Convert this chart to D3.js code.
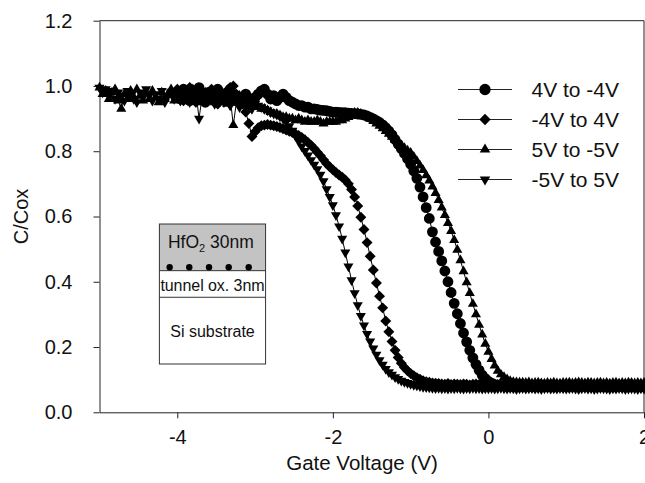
<!DOCTYPE html>
<html>
<head>
<meta charset="utf-8">
<script src="https://cdn.jsdelivr.net/npm/d3@7"></script>
<style>
  body { margin: 0; background: #fff; }
  text { font-family: "Liberation Sans", Arial, sans-serif; fill: #111; }
</style>
</head>
<body>
<div id="d3-container"></div>
<script>
/**
 * CONSTANTS AND GLOBALS
 * */
const width = 645,
  height = 483,
  margin = { top: 20.7, bottom: 70.7, left: 99.5, right: 1 };

// voltage step of the sweeps (V)
const sweepStep = 0.04;

const seriesNames = ["4V to -4V", "-4V to 4V", "5V to -5V", "-5V to 5V"];
const seriesStart = [-4, -4, -5, -5];

// C/Cox, one value per sweep step, clipped at 2 V
const circVals = [
  0.98, 0.96, 0.99, 0.975, 0.955, 0.97, 0.985, 0.995, 0.965, 0.95, 0.98, 0.97, 0.955, 0.99, 0.975, 0.96, 0.98, 0.99, 0.955, 0.97, 0.96, 0.95, 0.975, 0.96, 0.945,
  0.965, 0.975, 0.985, 0.99, 0.975, 0.96, 0.97, 0.955, 0.965, 0.975, 0.965, 0.955, 0.95, 0.945, 0.94, 0.94, 0.935, 0.935, 0.93, 0.93, 0.928, 0.926, 0.925, 0.924, 0.922,
  0.92, 0.92, 0.919, 0.918, 0.918, 0.917, 0.916, 0.915, 0.914, 0.913, 0.911, 0.908, 0.904, 0.899, 0.894, 0.888, 0.881, 0.872, 0.862, 0.85, 0.836, 0.822, 0.808, 0.793, 0.777,
  0.76, 0.74, 0.717, 0.69, 0.66, 0.627, 0.594, 0.553, 0.522, 0.493, 0.464, 0.433, 0.4, 0.367, 0.334, 0.302, 0.272, 0.243, 0.216, 0.19, 0.167, 0.147, 0.129, 0.114, 0.103,
  0.095, 0.089, 0.085, 0.083, 0.082, 0.081, 0.08, 0.079, 0.081, 0.08, 0.078, 0.08, 0.081, 0.079, 0.08, 0.078, 0.079, 0.081, 0.08, 0.079, 0.08, 0.078, 0.08, 0.081, 0.079,
  0.08, 0.079, 0.081, 0.08, 0.078, 0.079, 0.08, 0.081, 0.079, 0.08, 0.078, 0.08, 0.079, 0.081, 0.08, 0.079, 0.078, 0.08, 0.079, 0.081, 0.08, 0.079, 0.08, 0.078, 0.079, 0.08
];
const diamVals = [
  0.99, 0.97, 0.955, 0.985, 0.995, 0.965, 0.95, 0.98, 0.97, 0.955, 0.975, 0.99, 0.96, 0.945, 0.975, 0.965, 0.98, 0.995, 1.0, 0.975, 0.955, 0.945, 0.92, 0.885, 0.845,
  0.86, 0.872, 0.878, 0.88, 0.882, 0.88, 0.878, 0.876, 0.873, 0.869, 0.865, 0.861, 0.857, 0.853, 0.848, 0.842, 0.835, 0.827, 0.818, 0.808, 0.797, 0.786, 0.774, 0.762, 0.752,
  0.743, 0.735, 0.727, 0.72, 0.712, 0.70, 0.683, 0.66, 0.632, 0.598, 0.56, 0.52, 0.478, 0.436, 0.396, 0.356, 0.32, 0.28, 0.247, 0.217, 0.19, 0.168, 0.15, 0.137, 0.127,
  0.119, 0.112, 0.106, 0.101, 0.097, 0.094, 0.092, 0.09, 0.089, 0.088, 0.087, 0.086, 0.088, 0.085, 0.087, 0.086, 0.085, 0.087, 0.086, 0.084, 0.086, 0.087, 0.085, 0.086, 0.085,
  0.086, 0.085, 0.087, 0.085, 0.084, 0.086, 0.087, 0.085, 0.086, 0.084, 0.085, 0.087, 0.086, 0.085, 0.084, 0.086, 0.085, 0.087, 0.085, 0.084, 0.086, 0.085, 0.084, 0.086, 0.085,
  0.085, 0.086, 0.084, 0.085, 0.087, 0.085, 0.084, 0.086, 0.085, 0.083, 0.085, 0.086, 0.084, 0.085, 0.086, 0.084, 0.085, 0.083, 0.085, 0.086, 0.084, 0.085, 0.084, 0.086, 0.085, 0.084
];
const triVals = [
  0.995, 0.975, 0.985, 0.96, 0.98, 0.99, 0.955, 0.93, 0.975, 0.96, 0.985, 0.965, 0.99, 0.97, 0.955, 0.98, 0.96, 0.985, 0.965, 0.95, 0.98, 0.96, 0.975, 0.99, 0.955,
  0.975, 0.96, 0.985, 0.955, 0.97, 0.99, 0.96, 0.975, 0.95, 0.98, 0.965, 0.985, 0.95, 0.97, 0.96, 0.975, 0.945, 0.965, 0.88, 0.95, 0.97, 0.94, 0.96, 0.935, 0.955,
  0.94, 0.935, 0.93, 0.93, 0.925, 0.92, 0.915, 0.915, 0.91, 0.905, 0.905, 0.9, 0.9, 0.895, 0.9, 0.895, 0.89, 0.895, 0.89, 0.89, 0.895, 0.89, 0.885, 0.89, 0.89,
  0.89, 0.89, 0.895, 0.895, 0.9, 0.905, 0.915, 0.918, 0.918, 0.915, 0.91, 0.905, 0.899, 0.892, 0.885, 0.878, 0.87, 0.862, 0.853, 0.844, 0.835, 0.826, 0.818, 0.81, 0.802,
  0.795, 0.783, 0.77, 0.756, 0.742, 0.726, 0.71, 0.692, 0.672, 0.65, 0.627, 0.604, 0.58, 0.555, 0.528, 0.498, 0.466, 0.432, 0.398, 0.365, 0.332, 0.3, 0.268, 0.238, 0.21,
  0.185, 0.163, 0.143, 0.127, 0.116, 0.108, 0.101, 0.096, 0.093, 0.092, 0.091, 0.091, 0.09, 0.092, 0.089, 0.09, 0.091, 0.089, 0.088, 0.09, 0.089, 0.091, 0.089, 0.088, 0.09,
  0.09, 0.091, 0.089, 0.09, 0.092, 0.09, 0.089, 0.091, 0.09, 0.089, 0.09, 0.091, 0.089, 0.09, 0.088, 0.09, 0.091, 0.089, 0.09, 0.089, 0.091, 0.09, 0.089, 0.09, 0.089, 0.09
];
const invTriVals = [
  0.995, 0.98, 0.99, 0.97, 0.985, 0.96, 0.98, 0.97, 0.955, 0.985, 0.975, 0.96, 0.95, 0.98, 0.965, 0.99, 0.97, 0.955, 0.975, 0.96, 0.985, 0.95, 0.97, 0.98, 0.96,
  0.975, 0.955, 0.985, 0.965, 0.95, 0.97, 0.98, 0.9, 0.97, 0.955, 0.985, 0.96, 0.945, 0.97, 0.975, 0.95, 0.96, 0.94, 0.965, 0.955, 0.935, 0.96, 0.945, 0.95, 0.93,
  0.945, 0.94, 0.935, 0.93, 0.925, 0.92, 0.915, 0.912, 0.907, 0.9, 0.89, 0.877, 0.863, 0.847, 0.831, 0.815, 0.801, 0.787, 0.773, 0.759, 0.745, 0.728, 0.708, 0.684, 0.66,
  0.635, 0.604, 0.57, 0.532, 0.49, 0.447, 0.405, 0.365, 0.328, 0.295, 0.266, 0.24, 0.217, 0.196, 0.177, 0.16, 0.146, 0.133, 0.123, 0.115, 0.108, 0.102, 0.097, 0.093, 0.09,
  0.087, 0.084, 0.082, 0.08, 0.078, 0.077, 0.076, 0.075, 0.074, 0.075, 0.073, 0.074, 0.072, 0.074, 0.073, 0.075, 0.073, 0.072, 0.074, 0.073, 0.075, 0.073, 0.074, 0.072, 0.073,
  0.073, 0.074, 0.072, 0.073, 0.075, 0.073, 0.072, 0.074, 0.073, 0.071, 0.073, 0.074, 0.072, 0.073, 0.074, 0.072, 0.073, 0.071, 0.073, 0.074, 0.072, 0.073, 0.072, 0.074, 0.073,
  0.072, 0.073, 0.074, 0.072, 0.071, 0.073, 0.074, 0.072, 0.073, 0.071, 0.072, 0.074, 0.073, 0.072, 0.071, 0.073, 0.072, 0.074, 0.073, 0.071, 0.072, 0.073, 0.072, 0.071, 0.073, 0.072
];

const xTicks = [-4, -2, 0, 2];
const yTicks = [0, 0.2, 0.4, 0.6, 0.8, 1.0, 1.2];

// inset: device stack, in data units
const insetV = [-4.23, -2.865];
const insetLayers = [0.577, 0.434, 0.3525, 0.148]; // top of HfO2, top of tunnel ox, top of Si, bottom
const trapV = [-4.098, -3.846, -3.592, -3.339, -3.082];
const trapC = 0.4445;

let svg, x, y;

let state = { series: [] };

/**
 * INITIALIZING FUNCTION
 * */
function init() {
  x = d3.scaleLinear().domain([-5, 2]).range([margin.left, width - margin.right]);
  y = d3.scaleLinear().domain([0, 1.2]).range([height - margin.bottom, margin.top]);

  const vals = [circVals, diamVals, triVals, invTriVals];
  const shapes = [
    { type: d3.symbolCircle, size: 92, rot: 0, legendSize: 100 },
    { type: d3.symbolSquare, size: 60, rot: 45, legendSize: 64 },
    { type: d3.symbolTriangle, size: 44, rot: 0, legendSize: 48 },
    { type: d3.symbolTriangle, size: 44, rot: 180, legendSize: 48 }
  ];
  state.series = seriesNames.map((name, i) => ({
    name,
    shape: shapes[i],
    points: vals[i].map((c, j) => ({ v: seriesStart[i] + j * sweepStep, c }))
  }));

  svg = d3.select("#d3-container")
    .append("svg")
    .attr("width", width)
    .attr("height", height);

  // axes
  const yAxis = svg.append("g")
    .attr("transform", `translate(${x(-5)},0)`)
    .call(d3.axisLeft(y).tickValues(yTicks).tickFormat(d3.format(".1f"))
      .tickSize(6).tickSizeOuter(0).tickPadding(21));
  const xAxis = svg.append("g")
    .attr("transform", `translate(0,${y(0)})`)
    .call(d3.axisBottom(x).tickValues(xTicks).tickFormat(d => String(d))
      .tickSize(6).tickSizeOuter(0).tickPadding(12));
  [xAxis, yAxis].forEach(g => {
    g.selectAll("path, line").attr("stroke", "#222");
    g.selectAll("text").attr("font-size", 20).attr("fill", "#111")
      .attr("font-family", '"Liberation Sans", Arial, sans-serif');
  });

  // frame top and right
  svg.append("line")
    .attr("x1", x(-5)).attr("x2", x(2)).attr("y1", y(1.2)).attr("y2", y(1.2))
    .attr("stroke", "#222");
  svg.append("line")
    .attr("x1", x(2)).attr("x2", x(2)).attr("y1", y(0)).attr("y2", y(1.2))
    .attr("stroke", "#222");

  svg.append("text")
    .attr("transform", "rotate(-90)")
    .attr("x", -(y(0) + y(1.2)) / 2)
    .attr("y", 28)
    .attr("text-anchor", "middle")
    .attr("font-size", 20)
    .text("C/Cox");

  svg.append("text")
    .attr("x", 362)
    .attr("y", 470)
    .attr("text-anchor", "middle")
    .attr("font-size", 20.5)
    .text("Gate Voltage (V)");

  draw();
}

/**
 * DRAW FUNCTION
 * */
function draw() {
  const line = d3.line().x(d => x(d.v)).y(d => y(d.c));

  const groups = svg.selectAll(".series")
    .data(state.series)
    .join("g")
    .attr("class", "series");

  groups.append("path")
    .attr("d", d => line(d.points))
    .attr("fill", "none")
    .attr("stroke", "#000")
    .attr("stroke-width", 1);

  groups.each(function (s) {
    const sym = d3.symbol().type(s.shape.type).size(s.shape.size);
    d3.select(this).selectAll(".mark")
      .data(s.points)
      .join("path")
      .attr("class", "mark")
      .attr("d", sym)
      .attr("fill", "#000")
      .attr("transform", d => `translate(${x(d.v)},${y(d.c)}) rotate(${s.shape.rot})`);
  });

  // legend
  const legend = svg.append("g").attr("class", "legend");
  const row = legend.selectAll("g")
    .data(state.series)
    .join("g")
    .attr("transform", (d, i) => `translate(0,${89.5 + i * 30})`);
  row.append("line")
    .attr("x1", 458).attr("x2", 512)
    .attr("stroke", "#222").attr("stroke-width", 1.2);
  row.append("path")
    .attr("d", d => d3.symbol().type(d.shape.type).size(d.shape.legendSize)())
    .attr("transform", d => `translate(485,0) rotate(${d.shape.rot})`)
    .attr("fill", "#000");
  row.append("text")
    .attr("x", 531.5)
    .attr("y", 7.5)
    .attr("font-size", 21)
    .text(d => d.name);

  // inset: gate stack sketch
  const inset = svg.append("g").attr("class", "inset");
  const x0 = x(insetV[0]), x1 = x(insetV[1]);
  inset.append("rect")
    .attr("x", x0).attr("y", y(insetLayers[0]))
    .attr("width", x1 - x0).attr("height", y(insetLayers[1]) - y(insetLayers[0]))
    .attr("fill", "#c3c3c3");
  inset.append("rect")
    .attr("x", x0).attr("y", y(insetLayers[0]))
    .attr("width", x1 - x0).attr("height", y(insetLayers[3]) - y(insetLayers[0]))
    .attr("fill", "none").attr("stroke", "#333").attr("stroke-width", 1);
  inset.selectAll(".sep")
    .data([insetLayers[1], insetLayers[2]])
    .join("line")
    .attr("class", "sep")
    .attr("x1", x0).attr("x2", x1)
    .attr("y1", d => y(d)).attr("y2", d => y(d))
    .attr("stroke", "#333");
  inset.selectAll(".trap")
    .data(trapV)
    .join("circle")
    .attr("class", "trap")
    .attr("cx", d => x(d)).attr("cy", y(trapC))
    .attr("r", 3.2)
    .attr("fill", "#000");

  const hf = inset.append("text")
    .attr("x", x0 + 8.5)
    .attr("y", 248)
    .attr("font-size", 17.5);
  hf.append("tspan").text("HfO");
  hf.append("tspan").attr("font-size", 11).attr("dy", 4).text("2");
  hf.append("tspan").attr("dy", -4).text(" 30nm");

  inset.append("text")
    .attr("x", (x0 + x1) / 2)
    .attr("y", 291)
    .attr("text-anchor", "middle")
    .attr("font-size", 16)
    .attr("textLength", x1 - x0 - 2)
    .text("tunnel ox. 3nm");

  inset.append("text")
    .attr("x", (x0 + x1) / 2)
    .attr("y", 336.5)
    .attr("text-anchor", "middle")
    .attr("font-size", 16)
    .text("Si substrate");
}

init();
</script>
</body>
</html>
